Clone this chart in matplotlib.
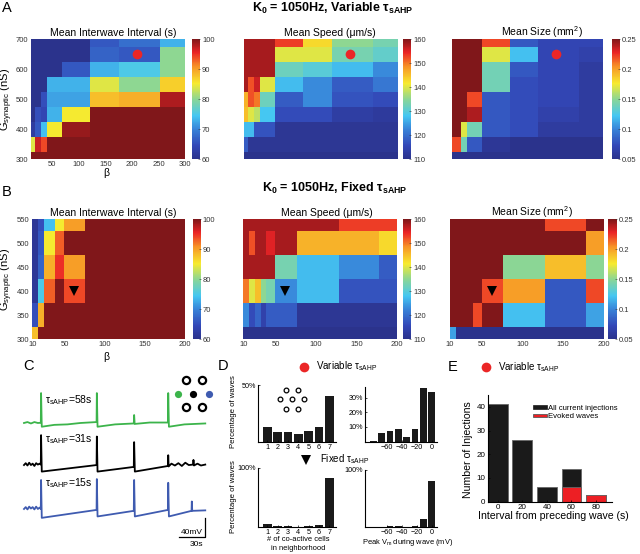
import numpy as np
import matplotlib
matplotlib.use("Agg")
import matplotlib.pyplot as plt
from matplotlib.colors import LinearSegmentedColormap
from matplotlib.patches import Patch
from matplotlib.lines import Line2D

# ================= DATA =================
# Panel A (variable tau_sAHP): grid edges and cell values (rows bottom -> top)
a_beta_edges = [10, 17.5, 28, 40, 68, 122, 176, 253, 300]
a_g_edges = [300, 325, 375, 425, 475, 525, 575, 625, 675, 700]
a_xticks = [50, 100, 150, 200, 250, 300]
a_yticks = [300, 400, 500, 600, 700]
a_interval = [
    [100, 100, 100, 100, 100, 100, 100, 100],
    [84, 97, 94, 100, 100, 100, 100, 100],
    [62, 66, 74, 85, 99, 100, 100, 100],
    [60, 65, 64, 73, 85, 100, 100, 100],
    [60, 60, 65, 72, 72, 88, 89, 98],
    [60, 60, 60, 73, 73, 84, 80, 87],
    [60, 60, 60, 60, 66, 73, 75, 80],
    [60, 60, 60, 60, 60, 67, 66, 80],
    [60, 60, 60, 60, 60, 66, 68, 73],
]
a_speed = [
    [110, 110, 110, 110, 110, 110, 110, 110],
    [118, 111, 111, 111, 111, 111, 111, 111],
    [127, 127, 117, 117, 111, 111, 111, 111],
    [145, 140, 138, 128, 116, 116, 113, 112],
    [146, 152, 150, 132, 118, 123, 117, 116],
    [158, 152, 156, 140, 127, 123, 118, 121],
    [158, 158, 158, 158, 132, 130, 127, 123],
    [158, 158, 158, 158, 140, 140, 133, 131],
    [158, 158, 158, 158, 153, 143, 135, 133],
]
a_size = [
    [0.05, 0.05, 0.05, 0.05, 0.05, 0.05, 0.05, 0.05],
    [0.22, 0.22, 0.14, 0.08, 0.055, 0.05, 0.05, 0.05],
    [0.25, 0.25, 0.17, 0.14, 0.08, 0.075, 0.06, 0.06],
    [0.25, 0.25, 0.25, 0.24, 0.08, 0.075, 0.065, 0.06],
    [0.25, 0.25, 0.25, 0.22, 0.08, 0.075, 0.07, 0.06],
    [0.25, 0.25, 0.25, 0.25, 0.14, 0.075, 0.07, 0.06],
    [0.25, 0.25, 0.25, 0.25, 0.14, 0.08, 0.07, 0.06],
    [0.25, 0.25, 0.25, 0.25, 0.17, 0.12, 0.07, 0.065],
    [0.25, 0.25, 0.25, 0.25, 0.22, 0.08, 0.07, 0.07],
]
a_dot_beta = [210]
a_dot_g = [650]

# Panel B (fixed tau_sAHP)
b_beta_edges = [10, 17, 25, 32, 38, 49, 76, 128, 178, 200]
b_g_edges = [300, 325, 375, 425, 475, 525, 550]
b_xticks = [10, 50, 100, 150, 200]
b_yticks = [300, 350, 400, 450, 500, 550]
b_interval = [
    [88, 100, 100, 100, 100, 100, 100, 100, 100],
    [65, 89, 100, 100, 100, 100, 100, 100, 100],
    [61, 75, 93, 93, 100, 94, 100, 100, 100],
    [61, 67, 89, 89, 95, 90, 100, 100, 100],
    [61, 66, 85, 85, 93, 100, 100, 100, 100],
    [61, 65, 74, 74, 85, 90, 100, 100, 100],
]
b_speed = [
    [110, 110, 110, 110, 110, 110, 110, 110, 110],
    [123, 116, 119, 114, 118, 118, 111, 111, 111],
    [150, 140, 145, 135, 133, 123, 127, 117, 117],
    [158, 158, 158, 158, 158, 133, 127, 123, 118],
    [158, 152, 158, 158, 155, 158, 146, 146, 143],
    [158, 158, 158, 158, 158, 158, 158, 153, 153],
]
b_size = [
    [0.11, 0.05, 0.05, 0.05, 0.05, 0.05, 0.05, 0.05, 0.05],
    [0.25, 0.25, 0.25, 0.25, 0.22, 0.25, 0.12, 0.08, 0.11],
    [0.25, 0.25, 0.25, 0.25, 0.25, 0.22, 0.20, 0.08, 0.22],
    [0.25, 0.25, 0.25, 0.25, 0.25, 0.25, 0.15, 0.19, 0.15],
    [0.25, 0.25, 0.25, 0.25, 0.25, 0.25, 0.25, 0.25, 0.20],
    [0.25, 0.25, 0.25, 0.25, 0.25, 0.25, 0.25, 0.22, 0.25],
]
b_tri_beta = [62]
b_tri_g = [400]

# Colorbar ticks
cb_interval_ticks = [60, 70, 80, 90, 100]
cb_interval_labels = ["60", "70", "80", "90", "100"]
cb_speed_ticks = [110, 120, 130, 140, 150, 160]
cb_speed_labels = ["110", "120", "130", "140", "150", "160"]
cb_size_ticks = [0.05, 0.1, 0.15, 0.2, 0.25]
cb_size_labels = ["0.05", "0.1", "0.15", "0.2", "0.25"]

# Panel C: membrane potential traces (time s, mV relative to each trace's rest)
c_green_t = [0, 4, 8, 12, 16, 19.4, 19.7, 20.5, 35, 50, 65, 83.7, 84.0, 84.8, 105, 126.6, 127.0, 127.6,
             145, 166.0, 166.3, 167.1, 185, 209]
c_green_v = [0, 2, -1, 2, 0, 0.5, 64, -8, -4, -3, 0, 2, 64, -8, -3, -1, 17, -2,
             1, 1, 64, -8, -3, -1]
c_black_t = [0, 2, 4, 6, 8, 10, 12, 14, 16, 18, 19.4, 19.7, 20.5, 83.7, 84.0, 84.8, 126.6, 127.0, 127.8,
             166.0, 166.3, 166.8, 170, 174, 178, 182, 186, 190, 195, 195.4, 196, 200, 204, 209]
c_black_v = [0, 4, -1, 5, 0, 3, -2, 4, 1, 3, 1, 64, -14, 0, 61, -14, -4, 49, -14,
             -2, 21, -3, 3, -1, 4, -2, 5, 0, 1, 11, -1, 3, -1, 1]
c_blue_t = [0, 2, 4, 6, 8, 10, 12, 14, 16, 18, 19.4, 19.7, 20.5, 83.7, 84.0, 84.8, 126.6, 127.0, 127.8,
            166.0, 166.3, 167.1, 193.2, 193.5, 194.0, 209]
c_blue_v = [0, 4, -1, 5, 1, 4, -1, 5, 0, 3, 0, 62, -19, -2, 64, -16, -4, 62, -16,
            -2, 56, -16, -4, 16, -4, -3]

# Panel D: histograms (percent of waves)
d_cells = [1, 2, 3, 4, 5, 6, 7]
d_cells_var = [13, 8.5, 8.5, 7, 9.5, 13, 40.5]
d_cells_fix = [4, 0.7, 1, 0.3, 0.7, 3.5, 82.5]
d_vm = [-77.8, -66.7, -55.6, -44.4, -33.3, -22.2, -11.1, 0.0]
d_vm_var = [0.5, 6.1, 7.3, 8.4, 3.4, 8.4, 36.7, 34]
d_vm_fix = [0, 0, 0.8, 1, 0.3, 0.5, 13, 81]

# Panel E: current injections
e_interval = [0, 20, 40, 60, 80]
e_all = [41, 26, 6, 14, 3]
e_evoked = [0, 0, 0, 6, 3]

# ================= STYLE =================
plt.rcParams['font.family'] = ['Liberation Sans', 'DejaVu Sans']
plt.rcParams['mathtext.fontset'] = 'custom'
plt.rcParams['mathtext.rm'] = 'Liberation Sans'
plt.rcParams['mathtext.it'] = 'Liberation Sans:italic'
plt.rcParams['mathtext.bf'] = 'Liberation Sans:bold'

W, H = 640, 554
fig = plt.figure(figsize=(6.4, 5.54), dpi=100)

cmap = LinearSegmentedColormap.from_list("jetlike", [
    (0.0, (0.17, 0.20, 0.55)), (0.11, (0.20, 0.28, 0.72)), (0.25, (0.22, 0.52, 0.85)),
    (0.36, (0.27, 0.78, 0.95)), (0.5, (0.55, 0.84, 0.58)), (0.63, (0.97, 0.92, 0.18)),
    (0.77, (0.97, 0.58, 0.15)), (0.89, (0.92, 0.14, 0.15)), (1.0, (0.50, 0.09, 0.10))])

RED = (0.92, 0.15, 0.15)


def ax_px(x0, y0, x1, y1):
    return fig.add_axes([x0 / W, 1 - y1 / H, (x1 - x0) / W, (y1 - y0) / H])


def ftext(x, y, s, **kw):
    return fig.text(x / W, 1 - y / H, s, **kw)


def fmark(x, y, **kw):
    fig.add_artist(Line2D([x / W], [1 - y / H], transform=fig.transFigure, **kw))


def heatmap(box, cbox, xe, ye, Z, vmin, vmax, cticks, clabels, xticks, yticks,
            show_x, show_y, title, tx, ty):
    ax = ax_px(*box)
    mesh = ax.pcolormesh(xe, ye, np.array(Z), cmap=cmap, vmin=vmin, vmax=vmax,
                         shading='flat', antialiased=False, edgecolors='none')
    ax.set_xlim(xe[0], xe[-1])
    ax.set_ylim(ye[0], ye[-1])
    for s in ax.spines.values():
        s.set_visible(False)
    ax.set_xticks(xticks)
    ax.set_yticks(yticks)
    ax.set_xticklabels([str(v) for v in xticks] if show_x else [])
    ax.set_yticklabels([str(v) for v in yticks] if show_y else [])
    ax.tick_params(length=0, labelsize=5.5, labelcolor='#333333')
    ax.tick_params(axis='x', pad=1.5)
    ax.tick_params(axis='y', pad=2)
    cax = ax_px(*cbox)
    cb = fig.colorbar(mesh, cax=cax, ticks=cticks)
    cb.ax.set_yticklabels(clabels)
    cb.outline.set_visible(False)
    cb.ax.tick_params(direction='in', length=1.5, width=0.4, labelsize=5.5, pad=1.5,
                      labelcolor='#333333', color='#333333')
    ftext(tx, ty, title, ha='center', va='baseline', fontsize=7.5)
    return ax


# ---------- Panel A ----------
ftext(2, 8, "A", fontsize=10.5, va='center', ha='left')
ftext(333, 11.7, r"K$_\mathregular{0}$ = 1050Hz, Variable τ$_\mathregular{sAHP}$",
      fontsize=9, fontweight='bold', ha='center', va='baseline')
A1 = heatmap((31, 39, 185, 159), (191.7, 39, 200, 159), a_beta_edges, a_g_edges, a_interval, 60, 100,
             cb_interval_ticks, cb_interval_labels, a_xticks, a_yticks, True, True,
             "Mean Interwave Interval (s)", 113, 36)
A2 = heatmap((244, 39, 398, 159), (403.3, 39, 411.3, 159), a_beta_edges, a_g_edges, a_speed, 110, 160,
             cb_speed_ticks, cb_speed_labels, a_xticks, a_yticks, False, False,
             "Mean Speed (μm/s)", 330, 36)
A3 = heatmap((451.7, 39, 603.3, 159), (611.7, 39, 620, 159), a_beta_edges, a_g_edges, a_size, 0.05, 0.25,
             cb_size_ticks, cb_size_labels, a_xticks, a_yticks, False, False,
             r"Mean Size (mm$^\mathregular{2}$)", 542, 36)
for ax in (A1, A2, A3):
    ax.plot(a_dot_beta, a_dot_g, 'o', color=RED, markersize=7, markeredgewidth=0)
ftext(106, 173, "β", fontsize=7.5, ha='center', va='center')
ftext(7, 99, r"G$_\mathregular{synaptic}$ (nS)", fontsize=8, rotation=90, ha='center', va='center')

# ---------- Panel B ----------
ftext(2, 192, "B", fontsize=10.5, va='center', ha='left')
ftext(335, 191.7, r"K$_\mathregular{0}$ = 1050Hz, Fixed τ$_\mathregular{sAHP}$",
      fontsize=9, fontweight='bold', ha='center', va='baseline')
B1 = heatmap((32.3, 219.3, 185, 339), (192.7, 219.3, 200.5, 339), b_beta_edges, b_g_edges, b_interval, 60, 100,
             cb_interval_ticks, cb_interval_labels, b_xticks, b_yticks, True, True,
             "Mean Interwave Interval (s)", 113, 216)
B2 = heatmap((243.3, 219.3, 397, 339), (403.3, 219.3, 411, 339), b_beta_edges, b_g_edges, b_speed, 110, 160,
             cb_speed_ticks, cb_speed_labels, b_xticks, b_yticks, True, False,
             "Mean Speed (μm/s)", 327, 216)
B3 = heatmap((450, 219.3, 603.5, 339), (608.3, 219.3, 616.7, 339), b_beta_edges, b_g_edges, b_size, 0.05, 0.25,
             cb_size_ticks, cb_size_labels, b_xticks, b_yticks, True, False,
             r"Mean Size (mm$^\mathregular{2}$)", 532, 216)
for ax in (B1, B2, B3):
    ax.plot(b_tri_beta, b_tri_g, 'v', color='black', markersize=7, markeredgewidth=0)
ftext(106, 357, "β", fontsize=7.5, ha='center', va='center')
ftext(7, 279, r"G$_\mathregular{synaptic}$ (nS)", fontsize=8, rotation=90, ha='center', va='center')

# ---------- Panel C ----------
ftext(23, 366, "C", fontsize=10.5, va='center', ha='left')
axC = ax_px(20, 375, 220, 550)
axC.set_xlim(-4.6, 226)
axC.set_ylim(-271.8, 102.7)
axC.axis('off')
off_green, off_black, off_blue = 0, -90, -184
axC.plot(c_green_t, np.array(c_green_v) + off_green, color='#3cb44b', lw=1.3)
axC.plot(c_black_t, np.array(c_black_v) + off_black, color='black', lw=1.3)
axC.plot(c_blue_t, np.array(c_blue_v) + off_blue, color='#3f5bb0', lw=1.3)
# scale bar: 30 s, 40 mV
axC.plot([178.9, 208.9, 208.9], [-243.3, -243.3, -203.3], color='black', lw=0.9)
ftext(45, 403.5, r"τ$_\mathregular{sAHP}$=58s", fontsize=7.5, ha='left', va='baseline')
ftext(45, 441.7, r"τ$_\mathregular{sAHP}$=31s", fontsize=7.5, ha='left', va='baseline')
ftext(45, 486.7, r"τ$_\mathregular{sAHP}$=15s", fontsize=7.5, ha='left', va='baseline')
ftext(203, 533.5, "40mV", fontsize=6, ha='right', va='baseline')
ftext(203, 545.5, "30s", fontsize=6, ha='right', va='baseline')
for (x, y) in [(185.7, 380), (201.7, 380), (185.7, 407.3), (201.7, 407.3)]:
    fmark(x, y, marker='o', markersize=5.2, markerfacecolor='white', markeredgecolor='black', markeredgewidth=1.6)
fmark(178.3, 394, marker='o', markersize=5.2, color='#3cb44b', markeredgewidth=0)
fmark(193.3, 394, marker='o', markersize=5.2, color='black', markeredgewidth=0)
fmark(209, 394, marker='o', markersize=5.2, color='#3f5bb0', markeredgewidth=0)

# ---------- Panel D ----------
ftext(218, 366, "D", fontsize=10.5, va='center', ha='left')
fmark(304.3, 366.7, marker='o', markersize=7, color=RED, markeredgewidth=0)
ftext(316, 366.5, r"Variable τ$_\mathregular{sAHP}$", fontsize=7, ha='left', va='center')
fmark(306, 460, marker='v', markersize=7, color='black', markeredgewidth=0)
ftext(320, 459, r"Fixed τ$_\mathregular{sAHP}$", fontsize=7, ha='left', va='center')


def style_d(ax, xlim, ylim, xticks, xlabels, yticks, ylabels):
    ax.set_xlim(*xlim)
    ax.set_ylim(*ylim)
    for s in ('top', 'right'):
        ax.spines[s].set_visible(False)
    for s in ('left', 'bottom'):
        ax.spines[s].set_linewidth(0.8)
    ax.set_xticks(xticks)
    ax.set_xticklabels(xlabels)
    ax.set_yticks(yticks)
    ax.set_yticklabels(ylabels)
    ax.tick_params(direction='in', length=1.5, width=0.5, labelsize=5.2, pad=1.5)


D1 = ax_px(257.7, 385, 336, 441.7)
D1.bar(d_cells, d_cells_var, width=0.85, color='#1a1a1a')
style_d(D1, (0.08, 7.65), (0, 50), d_cells, [str(c) for c in d_cells], [50], ["50%"])
for (x, y) in [(286, 390), (298.3, 390), (280, 399.3), (291.7, 399.3), (304, 399.3), (286, 409), (298.3, 409)]:
    fmark(x, y, marker='o', markersize=3.4, markerfacecolor='white', markeredgecolor='black', markeredgewidth=0.9)

D2 = ax_px(365, 386.7, 437, 441.7)
D2.bar(d_vm, d_vm_var, width=9, color='#1a1a1a')
style_d(D2, (-89, 7), (0, 37.4), [-60, -40, -20, 0], ["−60", "−40", "−20", "0"],
        [10, 20, 30], ["10%", "20%", "30%"])

D3 = ax_px(257.7, 467.5, 336, 526.7)
D3.bar(d_cells, d_cells_fix, width=0.85, color='#1a1a1a')
style_d(D3, (0.08, 7.65), (0, 100), d_cells, [str(c) for c in d_cells], [100], ["100%"])

D4 = ax_px(365, 470, 437, 526.7)
D4.bar(d_vm, d_vm_fix, width=9, color='#1a1a1a')
style_d(D4, (-89, 7), (0, 100), [-60, -40, -20, 0], ["−60", "−40", "−20", "0"], [100], ["100%"])

ftext(233.3, 412, "Percentage of waves", fontsize=5.6, rotation=90, ha='center', va='center')
ftext(233.3, 497, "Percentage of waves", fontsize=5.6, rotation=90, ha='center', va='center')
ftext(298.3, 539.3, "# of co-active cells", fontsize=5.4, ha='center', va='center')
ftext(298.3, 549, "in neighborhood", fontsize=5.4, ha='center', va='center')
ftext(408, 542.7, r"Peak V$_\mathregular{m}$ during wave (mV)", fontsize=5.4, ha='center', va='center')

# ---------- Panel E ----------
ftext(448, 367, "E", fontsize=10.5, va='center', ha='left')
fmark(485.7, 367.3, marker='o', markersize=7, color=RED, markeredgewidth=0)
ftext(498, 367, r"Variable τ$_\mathregular{sAHP}$", fontsize=7, ha='left', va='center')

E = ax_px(487.7, 395, 611.7, 501.7)
E.bar(e_interval, e_all, width=16, color='#1a1a1a', edgecolor='0.4', linewidth=0.6)
E.bar(e_interval, e_evoked, width=16, color=(0.93, 0.12, 0.14), edgecolor='0.4', linewidth=0.6)
E.set_xlim(-8.1, 92.7)
E.set_ylim(0, 45)
for s in ('top', 'right'):
    E.spines[s].set_visible(False)
for s in ('left', 'bottom'):
    E.spines[s].set_linewidth(0.8)
E.set_xticks(e_interval)
E.set_yticks([0, 10, 20, 30, 40])
E.tick_params(direction='in', length=1.5, width=0.5, labelsize=5.8, pad=1.5)
ftext(468.3, 450, "Number of Injections", fontsize=7.6, rotation=90, ha='center', va='center')
ftext(553, 515.7, "Interval from preceding wave (s)", fontsize=7.6, ha='center', va='center')
leg_handles = [Patch(facecolor='#1a1a1a', edgecolor='#1a1a1a', linewidth=0.5),
               Patch(facecolor=(0.93, 0.12, 0.14), edgecolor='0.35', linewidth=0.6)]
E.legend(leg_handles, ["All current injections", "Evoked waves"], loc='upper left',
         bbox_to_anchor=(533.3 / W, 1 - 404.5 / H), bbox_transform=fig.transFigure,
         frameon=False, fontsize=5.6, handlelength=1.7, handleheight=0.35,
         handletextpad=0.15, labelspacing=0.25, borderpad=0, borderaxespad=0)

fig.savefig("out.png", dpi=100)
